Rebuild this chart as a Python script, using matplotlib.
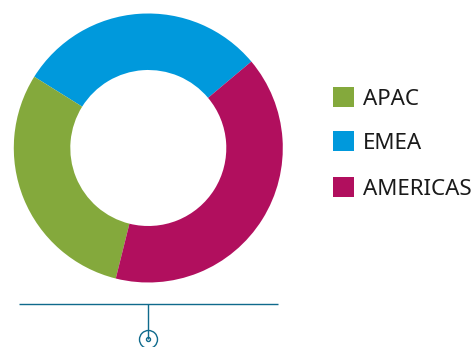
import matplotlib
matplotlib.use("Agg")
import matplotlib.pyplot as plt
from matplotlib.patches import Circle, Rectangle

regions = ["APAC", "EMEA", "AMERICAS"]
shares = [30, 30, 40]
colors = ["#84a93c", "#0099dc", "#b10f5e"]
rule_color = "#0f6a8c"

W, H = 476, 347
fig = plt.figure(figsize=(W / 100, H / 100), dpi=100)
ax = fig.add_axes([0, 0, 1, 1])

# Ring, going counter-clockwise from the EMEA/AMERICAS boundary
order = [1, 0, 2]
ax.pie([shares[i] for i in order], colors=[colors[i] for i in order],
       startangle=40, counterclock=True, center=(148.3, H - 148), radius=134.5,
       wedgeprops=dict(width=56.5, linewidth=0), frame=False)

ax.set_xlim(0, W)
ax.set_ylim(0, H)
ax.set_aspect("equal")
ax.axis("off")

# Legend swatches and labels
for name, color, y in zip(regions, colors, [97, 141, 187]):
    ax.add_patch(Rectangle((333, H - y - 10), 21, 20, facecolor=color, linewidth=0))
    ax.text(363, H - y - 2.5, name, fontsize=16.1, family="Noto Sans", color="#1a1a1a",
            va="center", ha="left")

# Bracket rule and its small target symbol below the ring
ax.plot([19, 278], [H - 303.5, H - 303.5], color=rule_color, lw=1.0, solid_capstyle="butt")
ax.plot([148, 148], [H - 303.5, H - 339], color=rule_color, lw=1.0, solid_capstyle="butt")
ax.add_patch(Circle((148.5, H - 339.5), 9, fill=False, edgecolor=rule_color, lw=1.0))
ax.add_patch(Circle((148.5, H - 339.5), 2, fill=False, edgecolor=rule_color, lw=1.0))

fig.savefig("out.png", dpi=100)
